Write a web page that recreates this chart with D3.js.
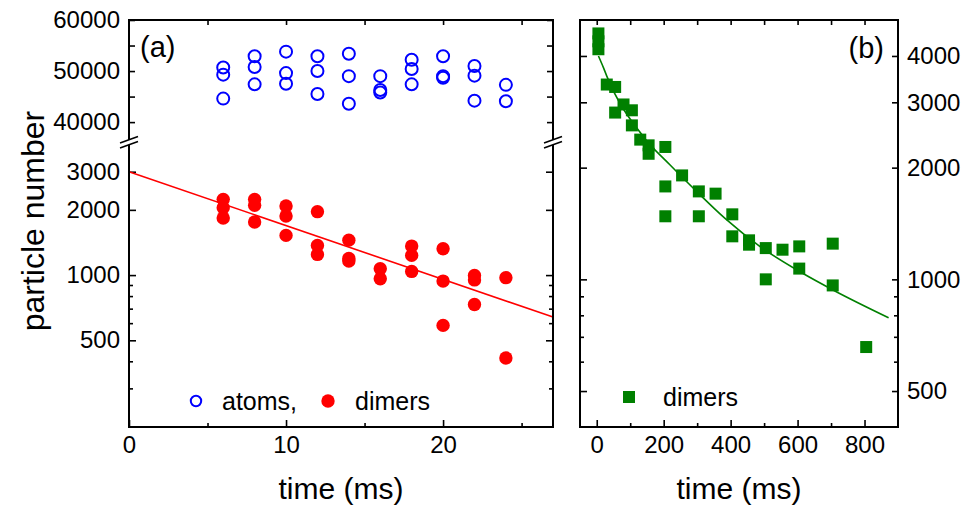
<!DOCTYPE html>
<html><head><meta charset="utf-8">
<script src="https://cdn.jsdelivr.net/npm/d3@7"></script>
<style>body{margin:0;background:#fff}</style>
</head><body>
<svg id="c" width="965" height="512" xmlns="http://www.w3.org/2000/svg"></svg>
<script>
// ---------- data ----------
// panel (a): atoms (open blue circles)
const atomsT = [6,6,6, 8,8,8, 10,10,10, 12,12,12, 14,14,14, 16,16,16, 18,18,18, 20,20,20, 22,22,22, 24,24];
const atomsN = [50700,49300,44600, 52900,50800,47400, 53800,49600,47500, 52900,50000,45500, 53400,49000,43600, 49000,46300,45800, 52200,50400,47400, 52900,49000,48700, 51000,49100,44200, 47300,44100];
// panel (a): dimers (filled red circles)
const dimersAT = [6,6,6, 8,8,8, 10,10,10, 12,12,12, 14,14,14, 16,16, 18,18,18, 20,20,20, 22,22,22, 24,24];
const dimersAN = [2236,2047,1833, 2236,2098,1757, 2083,1873,1525, 1962,1371,1246, 1450,1194,1160, 1070,962, 1361,1233,1040, 1324,938,586, 995,950,732, 973,414];
// panel (a): exponential fit line (straight on log scale)
const fitAT = [0, 27];
const fitAN = [3000, 640];
// panel (b): dimers (green squares)
const dimersBT = [5,5,5, 30, 55,55, 80, 105,105, 130, 155,155, 205,205,205, 255, 305,305, 355, 405,405, 455,455, 505,505, 555, 605,605, 705,705, 805];
const dimersBN = [4600,4380,4170, 3350, 3300,2815, 2960, 2855,2600, 2380, 2297,2180, 2274,1780,1479, 1906, 1726,1479, 1702, 1497,1306, 1274,1240, 1214,1000, 1202, 1227,1069, 1248,963, 657];
// panel (b): fit curve
const fitBT = [5, 20, 30, 140, 220, 300, 385, 490, 610, 710, 872];
const fitBN = [4000, 3720, 3530, 2420, 2030, 1720, 1455, 1222, 1045, 932, 788];
// ticks
const xTicksA = [0, 10, 20];
const xMinorA = [5, 15, 25];
const yTopTicks = [60000, 50000, 40000];
const yTopMinor = [55000, 45000];
const yBotTicks = [3000, 2000, 1000, 500];
const yBotMinor = [900, 800, 700, 600, 400, 300];
const xTicksB = [0, 200, 400, 600, 800];
const xMinorB = [100, 300, 500, 700];
const yTicksB = [4000, 3000, 2000, 1000, 500];
const yMinorB = [900, 800, 700, 600];

// ---------- setup ----------
const svg = d3.select('#c');
const FONT = '"Liberation Sans", Arial, sans-serif';
const TICK_FS = 24, TITLE_FS = 30, YTITLE_FS = 32, LEG_FS = 25, PANEL_FS = 29;
const MAJ = 7, MIN = 4;

const xA = d3.scaleLinear().domain([0, 27]).range([129, 553]);
const yTop = d3.scaleLinear().domain([60000, 36300]).range([20, 141]);
const yBot = d3.scaleLog().domain([4158, 199]).range([141, 427]);
const xB = d3.scaleLinear().domain([-50, 900]).range([580, 898]);
const yB = d3.scaleLog().domain([5000, 400]).range([20, 427]);

function drawAxis(gen, tx, ty, values, size, labels) {
  const g = svg.append('g').attr('transform', `translate(${tx},${ty})`)
    .call(gen.tickValues(values).tickSize(-size).tickPadding(labels ? 9 : 0)
      .tickFormat(labels ? d3.format('d') : () => ''));
  g.select('.domain').remove();
  g.selectAll('.tick line').attr('stroke', '#000').attr('stroke-width', 1.6);
  g.selectAll('.tick text').attr('font-family', FONT).attr('font-size', TICK_FS).attr('fill', '#000');
  return g;
}

// ---------- panel (a) ----------
drawAxis(d3.axisBottom(xA), 0, 427, xTicksA, MAJ, true);
drawAxis(d3.axisBottom(xA), 0, 427, xMinorA, MIN, false);
drawAxis(d3.axisTop(xA), 0, 20, xTicksA.concat(xMinorA).filter(v => v > 0), MIN + 1, false);
drawAxis(d3.axisLeft(yTop), 129, 0, yTopTicks, 6, true);
drawAxis(d3.axisLeft(yTop), 129, 0, yTopMinor, 6, false);
drawAxis(d3.axisRight(yTop), 553, 0, yTopTicks.concat(yTopMinor), 6, false);
drawAxis(d3.axisLeft(yBot), 129, 0, yBotTicks, MAJ, true);
drawAxis(d3.axisLeft(yBot), 129, 0, yBotMinor, MIN, false);
drawAxis(d3.axisRight(yBot), 553, 0, yBotTicks, MAJ, false);
drawAxis(d3.axisRight(yBot), 553, 0, yBotMinor, MIN, false);

const lineA = d3.line().x((d, i) => xA(fitAT[i])).y((d, i) => yBot(fitAN[i]));
svg.append('path').attr('d', lineA(fitAT)).attr('fill', 'none').attr('stroke', '#ff0000').attr('stroke-width', 1.6);
svg.append('g').selectAll('circle').data(atomsT).join('circle')
  .attr('cx', (d, i) => xA(atomsT[i])).attr('cy', (d, i) => yTop(atomsN[i]))
  .attr('r', 6).attr('fill', 'none').attr('stroke', '#0000ff').attr('stroke-width', 2);
svg.append('g').selectAll('circle').data(dimersAT).join('circle')
  .attr('cx', (d, i) => xA(dimersAT[i])).attr('cy', (d, i) => yBot(dimersAN[i]))
  .attr('r', 6.7).attr('fill', '#ff0000');

svg.append('rect').attr('x', 129).attr('y', 20).attr('width', 553 - 129).attr('height', 427 - 20)
  .attr('fill', 'none').attr('stroke', '#000').attr('stroke-width', 2);

function brk(cx, cy) {
  const g = svg.append('g');
  g.append('polygon').attr('points', `${cx-9},${cy+2.5} ${cx+9},${cy-4} ${cx+9},${cy+1} ${cx-9},${cy+7.5}`)
    .attr('fill', '#fff').attr('transform', 'translate(0,-2.5)');
  g.append('line').attr('x1', cx - 9).attr('y1', cy + 0).attr('x2', cx + 9).attr('y2', cy - 6.5)
    .attr('stroke', '#000').attr('stroke-width', 1.6);
  g.append('line').attr('x1', cx - 9).attr('y1', cy + 5).attr('x2', cx + 9).attr('y2', cy - 1.5)
    .attr('stroke', '#000').attr('stroke-width', 1.6);
}
brk(129, 143);
brk(553, 143);

svg.append('text').attr('x', 140).attr('y', 57).text('(a)')
  .attr('font-family', FONT).attr('font-size', PANEL_FS);

svg.append('circle').attr('cx', 196).attr('cy', 401).attr('r', 5.2)
  .attr('fill', 'none').attr('stroke', '#0000ff').attr('stroke-width', 2);
svg.append('text').attr('x', 222).attr('y', 410).text('atoms,')
  .attr('font-family', FONT).attr('font-size', LEG_FS);
svg.append('circle').attr('cx', 328).attr('cy', 401).attr('r', 6.7).attr('fill', '#ff0000');
svg.append('text').attr('x', 355).attr('y', 410).text('dimers')
  .attr('font-family', FONT).attr('font-size', LEG_FS);

// ---------- panel (b) ----------
drawAxis(d3.axisBottom(xB), 0, 427, xTicksB, MAJ, true);
drawAxis(d3.axisBottom(xB), 0, 427, xMinorB, MIN, false);
drawAxis(d3.axisTop(xB), 0, 20, xTicksB.concat(xMinorB), MIN + 1, false);
drawAxis(d3.axisRight(yB), 898, 0, yTicksB, 6, true);
drawAxis(d3.axisRight(yB), 898, 0, yMinorB, MIN, false);
drawAxis(d3.axisLeft(yB), 580, 0, yTicksB, MAJ, false);
drawAxis(d3.axisLeft(yB), 580, 0, yMinorB, MIN, false);

const lineB = d3.line().curve(d3.curveMonotoneX)
  .x((d, i) => xB(fitBT[i])).y((d, i) => yB(fitBN[i]));
svg.append('path').attr('d', lineB(fitBT)).attr('fill', 'none').attr('stroke', '#008000').attr('stroke-width', 1.6);
const SQ = 12;
svg.append('g').selectAll('rect').data(dimersBT).join('rect')
  .attr('x', (d, i) => xB(dimersBT[i]) - SQ / 2).attr('y', (d, i) => yB(dimersBN[i]) - SQ / 2)
  .attr('width', SQ).attr('height', SQ).attr('fill', '#008000');

svg.append('rect').attr('x', 580).attr('y', 20).attr('width', 898 - 580).attr('height', 427 - 20)
  .attr('fill', 'none').attr('stroke', '#000').attr('stroke-width', 2);

svg.append('text').attr('x', 884).attr('y', 58).attr('text-anchor', 'end').text('(b)')
  .attr('font-family', FONT).attr('font-size', PANEL_FS);

svg.append('rect').attr('x', 623).attr('y', 391).attr('width', 12).attr('height', 12).attr('fill', '#008000');
svg.append('text').attr('x', 663).attr('y', 406).text('dimers')
  .attr('font-family', FONT).attr('font-size', LEG_FS);

// ---------- axis titles ----------
svg.append('text').attr('x', 341).attr('y', 499).attr('text-anchor', 'middle').text('time (ms)')
  .attr('font-family', FONT).attr('font-size', TITLE_FS);
svg.append('text').attr('x', 739).attr('y', 499).attr('text-anchor', 'middle').text('time (ms)')
  .attr('font-family', FONT).attr('font-size', TITLE_FS);
svg.append('text').attr('transform', 'translate(44,221) rotate(-90)').attr('text-anchor', 'middle')
  .text('particle number').attr('font-family', FONT).attr('font-size', YTITLE_FS);
</script>
</body></html>
